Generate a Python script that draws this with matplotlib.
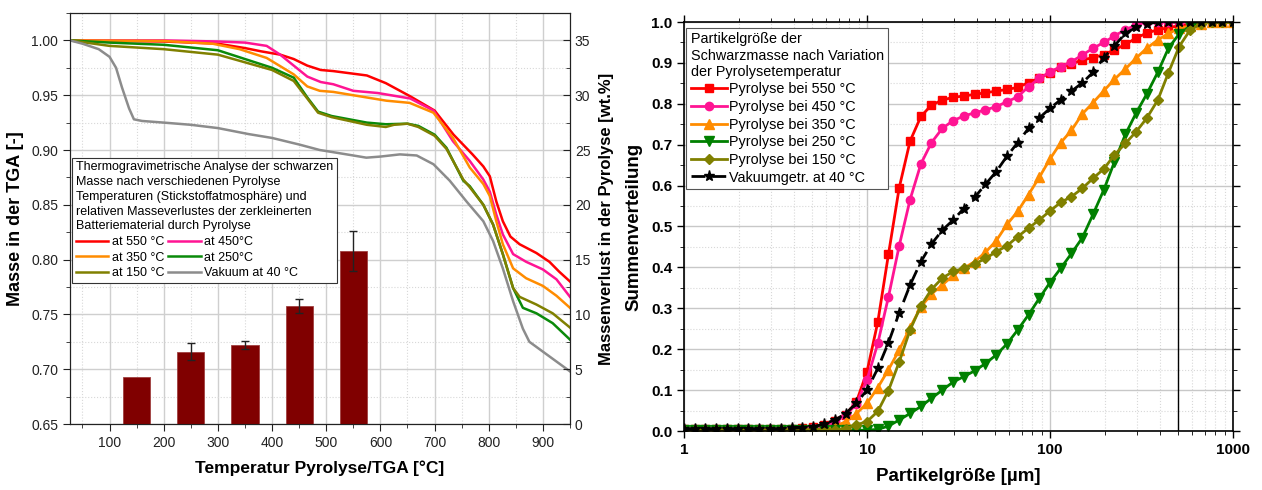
import numpy as np
import matplotlib
matplotlib.use("Agg")
import matplotlib.pyplot as plt
from matplotlib.ticker import MultipleLocator, FormatStrFormatter, LogLocator, NullFormatter

plt.rcParams['font.family'] = ['Liberation Sans', 'DejaVu Sans']

# ---------------- TGA data (left) ----------------
t_550 = [27, 100, 200, 300, 350, 380, 415, 440, 465, 490, 513, 575, 610, 655, 700, 735, 770, 790, 802, 814, 826, 840, 857, 888, 912, 930, 950]
m_550 = [1.0, 0.9995, 0.999, 0.997, 0.993, 0.990, 0.987, 0.983, 0.977, 0.973, 0.972, 0.968, 0.961, 0.949, 0.936, 0.914, 0.896, 0.885, 0.876, 0.853, 0.835, 0.821, 0.814, 0.806, 0.798, 0.789, 0.780]
t_450 = [27, 200, 300, 350, 390, 415, 440, 465, 490, 513, 550, 595, 655, 698, 734, 765, 790, 802, 814, 826, 845, 869, 900, 925, 950]
m_450 = [1.0, 1.0, 0.999, 0.998, 0.995, 0.987, 0.977, 0.967, 0.962, 0.960, 0.954, 0.952, 0.947, 0.936, 0.908, 0.890, 0.873, 0.862, 0.841, 0.823, 0.805, 0.798, 0.791, 0.782, 0.766]
t_350 = [27, 200, 290, 340, 390, 440, 465, 488, 513, 574, 611, 654, 698, 734, 765, 790, 802, 814, 826, 845, 869, 900, 925, 950]
m_350 = [1.0, 0.9995, 0.997, 0.992, 0.984, 0.969, 0.958, 0.954, 0.953, 0.948, 0.945, 0.943, 0.934, 0.911, 0.884, 0.869, 0.858, 0.835, 0.814, 0.792, 0.783, 0.776, 0.767, 0.756]
t_250 = [27, 100, 200, 300, 350, 400, 440, 465, 485, 510, 575, 610, 650, 670, 700, 722, 753, 765, 790, 808, 826, 845, 863, 888, 918, 950]
m_250 = [1.0, 0.998, 0.996, 0.991, 0.983, 0.975, 0.966, 0.948, 0.935, 0.931, 0.925, 0.9235, 0.924, 0.922, 0.914, 0.902, 0.872, 0.867, 0.850, 0.832, 0.805, 0.774, 0.756, 0.751, 0.742, 0.727]
t_150 = [27, 100, 200, 300, 350, 400, 440, 465, 485, 510, 575, 610, 625, 650, 670, 700, 722, 753, 765, 790, 808, 826, 845, 857, 888, 918, 950]
m_150 = [1.0, 0.995, 0.992, 0.987, 0.980, 0.973, 0.963, 0.947, 0.934, 0.930, 0.923, 0.921, 0.923, 0.924, 0.921, 0.913, 0.901, 0.873, 0.866, 0.850, 0.832, 0.805, 0.774, 0.766, 0.759, 0.751, 0.738]
t_vak = [27, 50, 80, 100, 112, 123, 136, 145, 160, 200, 250, 300, 357, 400, 450, 488, 513, 550, 574, 600, 636, 667, 698, 728, 759, 790, 808, 826, 845, 863, 875, 900, 925, 950]
m_vak = [1.0, 0.997, 0.992, 0.985, 0.975, 0.957, 0.938, 0.928, 0.9265, 0.925, 0.923, 0.920, 0.9145, 0.911, 0.905, 0.900, 0.898, 0.895, 0.893, 0.894, 0.896, 0.895, 0.887, 0.872, 0.853, 0.835, 0.817, 0.792, 0.762, 0.737, 0.725, 0.716, 0.707, 0.698]

# mass loss in pyrolysis (right axis, wt.%)
bar_temp = [150, 250, 350, 450, 550]
bar_loss = [4.3, 6.6, 7.2, 10.8, 15.8]
bar_err = [0.0, 0.8, 0.4, 0.65, 1.8]

# ---------------- particle size data (right) ----------------
sizes = [1.00, 1.15, 1.31, 1.50, 1.72, 1.97, 2.25, 2.58, 2.95, 3.38,
         3.87, 4.44, 5.08, 5.82, 6.66, 7.63, 8.73,
         10.0, 11.45, 13.1, 15.0, 17.2, 19.7, 22.5, 25.8, 29.6,
         33.8, 38.7, 44.4, 50.8, 58.2, 66.6, 76.3, 87.3,
         100, 114.5, 131, 150, 172, 197, 225, 258,
         296, 338, 388, 444, 508, 582, 666, 763, 873, 1000]
psd_550 = [0.004] * 10 + [0.005, 0.007, 0.010, 0.015, 0.025, 0.040, 0.070,
           0.145, 0.266, 0.432, 0.595, 0.709, 0.769, 0.797, 0.809, 0.816,
           0.819, 0.823, 0.827, 0.831, 0.835, 0.840, 0.852, 0.862,
           0.876, 0.889, 0.898, 0.907, 0.913, 0.920, 0.932, 0.945,
           0.961, 0.973, 0.981, 0.986, 0.991, 0.995, 1.0, 1.0, 1.0, 1.0]
psd_450 = [0.004] * 10 + [0.005, 0.006, 0.008, 0.013, 0.022, 0.038, 0.065,
           0.125, 0.214, 0.328, 0.453, 0.566, 0.653, 0.705, 0.740, 0.759,
           0.770, 0.778, 0.785, 0.793, 0.805, 0.817, 0.842, 0.862,
           0.878, 0.891, 0.903, 0.919, 0.936, 0.950, 0.966, 0.981,
           0.993, 1.0, 1.0, 1.0, 1.0, 1.0, 1.0, 1.0, 1.0, 1.0]
psd_350 = [0.003] * 10 + [0.003, 0.003, 0.003, 0.005, 0.010, 0.023, 0.042,
           0.068, 0.106, 0.150, 0.198, 0.253, 0.303, 0.335, 0.357, 0.381,
           0.398, 0.414, 0.437, 0.465, 0.505, 0.537, 0.578, 0.620,
           0.665, 0.705, 0.735, 0.775, 0.803, 0.832, 0.860, 0.885,
           0.912, 0.936, 0.956, 0.972, 0.985, 0.990, 0.996, 1.0, 1.0, 1.0]
psd_250 = [0.002] * 10 + [0.002, 0.002, 0.002, 0.002, 0.002, 0.002, 0.002,
           0.002, 0.004, 0.012, 0.027, 0.043, 0.060, 0.080, 0.100, 0.120,
           0.133, 0.147, 0.165, 0.186, 0.213, 0.247, 0.284, 0.324,
           0.363, 0.398, 0.434, 0.472, 0.530, 0.590, 0.658, 0.725,
           0.778, 0.824, 0.877, 0.936, 0.971, 0.990, 1.0, 1.0, 1.0, 1.0]
psd_150 = [0.003] * 10 + [0.003, 0.003, 0.003, 0.003, 0.003, 0.006, 0.015,
           0.023, 0.048, 0.099, 0.169, 0.247, 0.306, 0.346, 0.374, 0.390,
           0.398, 0.408, 0.422, 0.438, 0.453, 0.475, 0.496, 0.516,
           0.538, 0.559, 0.573, 0.593, 0.618, 0.641, 0.675, 0.703,
           0.732, 0.765, 0.809, 0.876, 0.940, 0.980, 0.995, 1.0, 1.0, 1.0]
psd_vak = [0.004] * 10 + [0.0065, 0.008, 0.0105, 0.017, 0.027, 0.042, 0.068,
           0.100, 0.153, 0.216, 0.289, 0.357, 0.414, 0.457, 0.491, 0.516,
           0.544, 0.571, 0.603, 0.634, 0.672, 0.705, 0.740, 0.765,
           0.789, 0.810, 0.831, 0.851, 0.877, 0.913, 0.942, 0.972,
           0.987, 0.995, 1.0, 1.0, 1.0, 1.0, 1.0, 1.0, 1.0, 1.0]

c_red, c_pink, c_orange, c_green, c_olive, c_gray = '#ff0000', '#ff1493', '#ff8c00', '#0a8a0a', '#808000', '#8c8c8c'

fig = plt.figure(figsize=(12.62, 4.9), dpi=100)

# ================= left chart =================
ax1 = fig.add_axes([70/1262, 1 - 424/490, 500/1262, 411/490])
ax2 = ax1.twinx()

l550, = ax1.plot(t_550, m_550, color=c_red, lw=1.8, label='at 550 °C')
l450, = ax1.plot(t_450, m_450, color=c_pink, lw=1.8, label='at 450°C')
l350, = ax1.plot(t_350, m_350, color=c_orange, lw=1.8, label='at 350 °C')
l250, = ax1.plot(t_250, m_250, color=c_green, lw=1.8, label='at 250°C')
l150, = ax1.plot(t_150, m_150, color=c_olive, lw=1.8, label='at 150 °C')
lvak, = ax1.plot(t_vak, m_vak, color=c_gray, lw=1.8, label='Vakuum at 40 °C')

ax2.bar(bar_temp, bar_loss, width=50, color='#800000', edgecolor='#a04040', lw=0.6, zorder=2)
ax2.errorbar(bar_temp[1:], bar_loss[1:], yerr=bar_err[1:], fmt='none', ecolor='#222222',
             elinewidth=1, capsize=3, capthick=1, zorder=3)

ax1.set_xlim(27, 950)
ax1.set_ylim(0.65, 1.025)
ax2.set_ylim(0, 37.5)
ax1.xaxis.set_major_locator(MultipleLocator(100))
ax1.xaxis.set_minor_locator(MultipleLocator(50))
ax1.yaxis.set_major_locator(MultipleLocator(0.05))
ax1.yaxis.set_minor_locator(MultipleLocator(0.025))
ax1.yaxis.set_major_formatter(FormatStrFormatter('%.2f'))
ax2.yaxis.set_major_locator(MultipleLocator(5))
ax2.yaxis.set_minor_locator(MultipleLocator(2.5))
ax1.grid(which='major', color='#cfcfcf', lw=1)
ax1.grid(which='minor', color='#d8d8d8', lw=0.8, linestyle=':')
ax1.tick_params(which='both', labelsize=10, colors='#222222', direction='out')
ax1.tick_params(which='major', length=5)
ax1.tick_params(which='minor', length=3)
ax2.tick_params(which='both', labelsize=10, colors='#222222', direction='in')
ax2.tick_params(which='major', length=5)
ax2.tick_params(which='minor', length=3)
for sp in ax2.spines.values():
    sp.set_color('#222222')

ax1.set_xlabel('Temperatur Pyrolyse/TGA [°C]', fontsize=12.5, fontweight='bold', labelpad=8)
ax1.set_ylabel('Masse in der TGA [-]', fontsize=13, fontweight='bold', labelpad=5)
ax2.set_ylabel('Massenverlust in der Pyrolyse [wt.%]', fontsize=12, fontweight='bold', labelpad=6)

leg1 = ax2.legend([l550, l350, l150, l450, l250, lvak],
                  [h.get_label() for h in [l550, l350, l150, l450, l250, lvak]],
                  ncol=2, loc='upper left', bbox_to_anchor=(0.004, 0.648),
                  title='Thermogravimetrische Analyse der schwarzen\nMasse nach verschiedenen Pyrolyse\n'
                        'Temperaturen (Stickstoffatmosphäre) und\nrelativen Masseverlustes der zerkleinerten\n'
                        'Batteriematerial durch Pyrolyse',
                  fontsize=9, title_fontsize=9, alignment='left', fancybox=False,
                  edgecolor='#333333', framealpha=1, borderpad=0.3, labelspacing=0.3,
                  handlelength=2.6, handletextpad=0.3, columnspacing=0.3, borderaxespad=0)
leg1.get_title().set_linespacing(1.3)
leg1.get_frame().set_linewidth(0.8)

# ================= right chart =================
ax3 = fig.add_axes([684/1262, 1 - 431/490, 549/1262, 409/490])
ms = 6
ax3.plot(sizes, psd_550, color=c_red, lw=2, marker='s', ms=ms, label='Pyrolyse bei 550 °C')
ax3.plot(sizes, psd_450, color=c_pink, lw=2, marker='o', ms=ms, label='Pyrolyse bei 450 °C')
ax3.plot(sizes, psd_350, color=c_orange, lw=2, marker='^', ms=ms + 0.5, label='Pyrolyse bei 350 °C')
ax3.plot(sizes, psd_250, color='#008000', lw=2, marker='v', ms=ms + 0.5, label='Pyrolyse bei 250 °C')
ax3.plot(sizes, psd_150, color=c_olive, lw=2, marker='D', ms=ms - 0.5, label='Pyrolyse bei 150 °C')
ax3.plot(sizes, psd_vak, color='black', lw=2, ls=(0, (5, 2.5)), marker='*', ms=ms + 2, label='Vakuumgetr. at 40 °C')
ax3.axvline(500, color='black', lw=1)

ax3.set_xscale('log')
ax3.set_xlim(1, 1000)
ax3.set_ylim(0, 1.0)
ax3.xaxis.set_major_locator(LogLocator(base=10, numticks=10))
ax3.xaxis.set_minor_locator(LogLocator(base=10, subs=np.arange(2, 10), numticks=20))
ax3.xaxis.set_minor_formatter(NullFormatter())
ax3.xaxis.set_major_formatter(FormatStrFormatter('%g'))
ax3.yaxis.set_major_locator(MultipleLocator(0.1))
ax3.yaxis.set_minor_locator(MultipleLocator(0.05))
ax3.yaxis.set_major_formatter(FormatStrFormatter('%.1f'))
ax3.grid(which='major', color='#c8c8c8', lw=1)
ax3.grid(which='minor', color='#d8d8d8', lw=0.8, linestyle=':')
ax3.tick_params(which='both', direction='out', labelsize=11)
ax3.tick_params(which='major', length=5, width=1)
ax3.tick_params(which='minor', length=3)
ax3.tick_params(which='both', top=True, right=True)
for lab in ax3.get_xticklabels() + ax3.get_yticklabels():
    lab.set_fontweight('bold')
for sp in ax3.spines.values():
    sp.set_linewidth(1.2)
ax3.set_xlabel('Partikelgröße [µm]', fontsize=13.5, fontweight='bold', labelpad=8)
ax3.set_ylabel('Summenverteilung', fontsize=13.5, fontweight='bold', labelpad=6)

leg3 = ax3.legend(loc='upper left', bbox_to_anchor=(0.004, 0.985),
                  title='Partikelgröße der\nSchwarzmasse nach Variation\nder Pyrolysetemperatur',
                  fontsize=10.4, title_fontsize=10.4, alignment='left', fancybox=False,
                  edgecolor='#555555', framealpha=1, borderpad=0.3, labelspacing=0.25,
                  handlelength=2.5, handletextpad=0.15, borderaxespad=0)
leg3.get_frame().set_linewidth(0.8)

fig.savefig('out.png', dpi=100)
